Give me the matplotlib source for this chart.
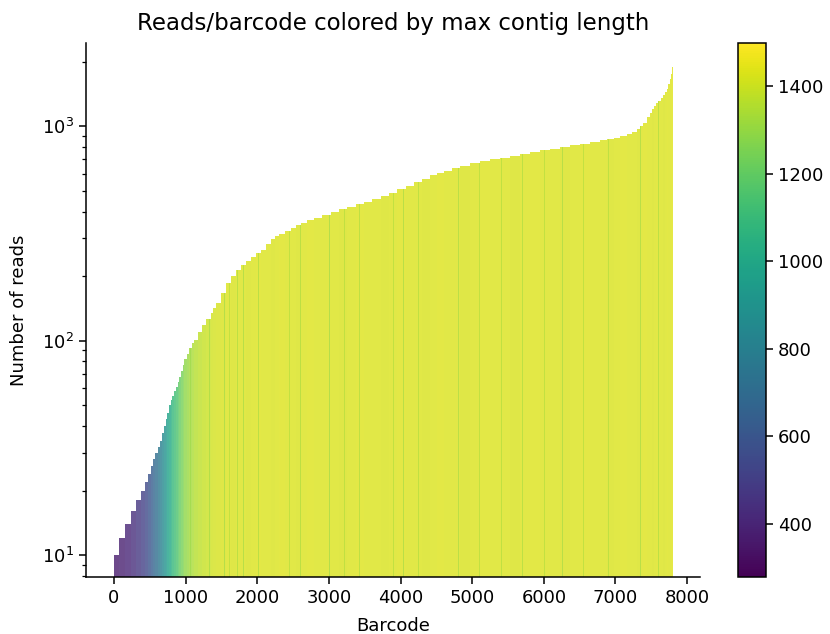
import numpy as np
import matplotlib
matplotlib.use('Agg')
import matplotlib.pyplot as plt
from matplotlib.colors import Normalize

# 按 reads 排序后的 barcode 分段（起始序号）、每段 reads 数、最大 contig 长度
barcode_start = [0, 65, 158, 237, 307, 376, 432, 478, 515, 548, 576, 609, 641, 665,
                 701, 720, 739, 766, 794, 817, 840, 864, 888, 912, 935, 958, 980,
                 1015, 1050, 1085, 1119, 1175, 1230, 1290, 1352, 1386, 1420,
                 1491, 1560, 1631, 1700, 1770, 1840, 1909, 1980, 2049, 2120,
                 2188, 2246, 2304, 2385, 2467, 2536, 2606, 2700, 2792, 2908,
                 3024, 3140, 3257, 3373, 3489, 3605, 3721, 3838, 3954, 4070,
                 4186, 4302, 4418, 4511, 4604, 4720, 4836, 4975, 5115, 5255,
                 5394, 5533, 5672, 5812, 5951, 6090, 6230, 6370, 6509, 6648,
                 6787, 6880, 6973, 7066, 7159, 7230, 7298, 7345, 7391, 7440,
                 7484, 7512, 7540, 7570, 7600, 7630, 7660, 7690, 7717, 7740,
                 7763, 7780, 7795]
n_barcodes = 7805
reads = [10, 12, 14, 16, 18, 20, 22, 24, 26, 28, 30, 32, 34, 37,
         40, 43, 46, 50, 53, 55, 58, 61, 64, 68, 72, 77, 82,
         87, 92, 97, 101, 110, 118, 126, 135, 142, 150,
         167, 185, 200, 213, 225, 236, 246, 256, 266, 281,
         297, 307, 316, 326, 336, 346, 355, 365, 374, 386,
         398, 409, 420, 432, 445, 458, 472, 490, 508, 529,
         550, 570, 590, 607, 620, 636, 653, 671, 689, 701,
         714, 729, 745, 758, 772, 786, 800, 815, 830, 845,
         860, 873, 886, 901, 918, 940, 969, 1000, 1040, 1100,
         1158, 1200, 1245, 1280, 1315, 1355, 1395, 1440, 1489, 1570,
         1665, 1760, 1886]
max_contig = [370, 385, 410, 440, 470, 510, 550, 590, 630, 670, 710, 760, 800, 850,
              890, 930, 970, 1010, 1050, 1090, 1120, 1150, 1180, 1210, 1240, 1260, 1290,
              1310, 1330, 1345, 1360, 1375, 1390, 1400, 1410, 1415, 1420,
              1425, 1430, 1425, 1430, 1430, 1425, 1430, 1435, 1430, 1430,
              1425, 1430, 1435, 1430, 1430, 1425, 1430, 1435, 1430, 1430,
              1430, 1425, 1430, 1435, 1430, 1430, 1425, 1430, 1435, 1430,
              1430, 1425, 1430, 1435, 1430, 1430, 1425, 1430, 1435, 1430,
              1430, 1425, 1430, 1435, 1430, 1430, 1425, 1430, 1435, 1430,
              1430, 1425, 1430, 1435, 1430, 1430, 1425, 1430, 1435, 1430,
              1430, 1425, 1430, 1435, 1430, 1430, 1425, 1430, 1435, 1430,
              1430, 1435, 1440]

# 个别 contig 较短的 barcode（图中浅绿色细条）
stripe_barcode = [1060, 1140, 1210, 1330, 1460, 1540, 1610, 1720, 1800, 1880, 2010,
                  2090, 2160, 2300, 2450, 2600, 2760, 3000, 3210, 3420, 3680, 3900,
                  4040, 4250, 4560, 4808, 5100, 5400, 5700, 6000, 6258, 6550, 6900,
                  7345, 7600]
stripe_contig = [1300, 1280, 1320, 1290, 1310, 1270, 1330, 1300, 1280, 1320, 1290,
                 1310, 1300, 1260, 1320, 1300, 1310, 1260, 1320, 1300, 1270, 1320,
                 1280, 1310, 1270, 1290, 1320, 1310, 1300, 1320, 1280, 1320, 1310,
                 1280, 1300]
stripe_width = 10

contig_min, contig_max = 279, 1498

assert len(barcode_start) == len(reads) == len(max_contig)
assert len(stripe_barcode) == len(stripe_contig)

starts = np.array(barcode_start)
widths = np.diff(np.append(starts, n_barcodes))
reads = np.array(reads)

fig = plt.figure(figsize=(8.3, 6.34), dpi=100)
ax = fig.add_axes([0.1036, 0.0899, 0.7398, 0.8423])
cax = fig.add_axes([0.889, 0.0899, 0.0337, 0.8423])

cmap = plt.get_cmap('viridis')
norm = Normalize(vmin=contig_min, vmax=contig_max)
ax.bar(starts, reads, width=widths, align='edge', color=cmap(norm(max_contig)),
       alpha=0.8, linewidth=0)

# 细条高度取所在分段的 reads 数
seg = np.searchsorted(starts, stripe_barcode, side='right') - 1
ax.bar(stripe_barcode, reads[seg], width=stripe_width, align='edge',
       color=cmap(norm(stripe_contig)), alpha=0.45, linewidth=0)

ax.set_yscale('log')
ax.set_xlim(-390, 8180)
ax.set_ylim(7.9, 2445)
ax.set_xticks(range(0, 8001, 1000))
ax.spines['top'].set_visible(False)
ax.spines['right'].set_visible(False)
for s in ['left', 'bottom']:
    ax.spines[s].set_linewidth(1.1)
ax.tick_params(axis='both', which='major', labelsize=13, length=5, width=1.1)
ax.tick_params(axis='y', which='minor', length=3, width=0.9)

ax.set_title('Reads/barcode colored by max contig length', fontsize=16.5, pad=9)
ax.set_xlabel('Barcode', fontsize=13, labelpad=7)
ax.set_ylabel('Number of reads', fontsize=13, labelpad=10)

sm = plt.cm.ScalarMappable(norm=norm, cmap=cmap)
cb = fig.colorbar(sm, cax=cax)
cb.set_ticks([400, 600, 800, 1000, 1200, 1400])
cb.ax.tick_params(labelsize=13, length=5, width=1.1)
cb.outline.set_linewidth(1.1)

plt.savefig('out.png', dpi=100)
